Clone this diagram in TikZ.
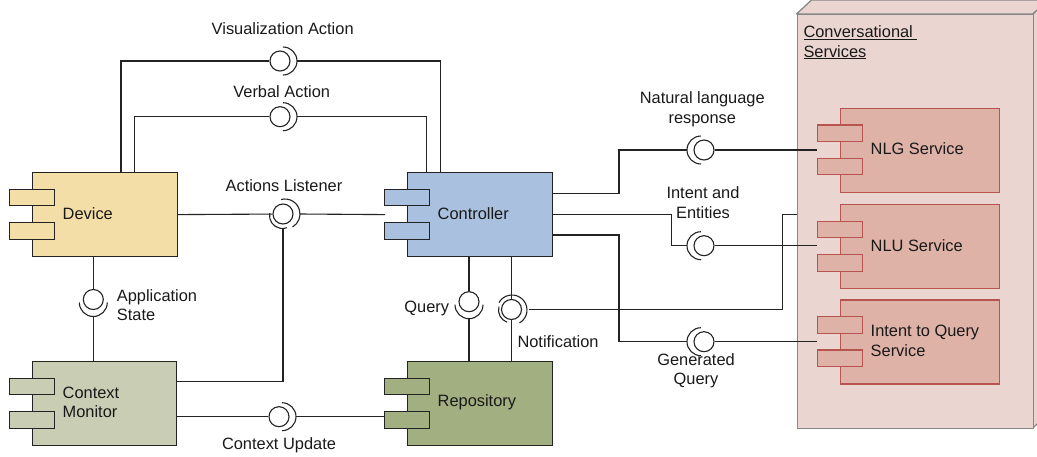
\documentclass[tikz,border=0pt]{standalone}
\usepackage{fontspec}
\setmainfont{Liberation Sans}
\usetikzlibrary{calc}
\definecolor{devfill}{RGB}{244,222,167}
\definecolor{ctrlfill}{RGB}{169,192,222}
\definecolor{cmfill}{RGB}{201,205,179}
\definecolor{repfill}{RGB}{161,175,129}
\definecolor{svcfill}{RGB}{222,178,167}
\definecolor{svcstroke}{RGB}{184,84,80}
\definecolor{boxfill}{RGB}{234,213,208}
\definecolor{boxstroke}{RGB}{135,135,135}
\definecolor{strokeblk}{RGB}{35,35,35}
\tikzset{
 compbody/.style={rectangle, line width=1.2pt, inner sep=0pt},
 comptab/.style={rectangle, line width=1.2pt, inner sep=0pt, minimum width=45pt, minimum height=16.5pt},
 ball/.style={circle, draw=strokeblk, line width=1.1pt, fill=white, minimum size=20pt, inner sep=0pt},
 sock/.style={line width=1.1pt, draw=strokeblk},
 conn/.style={line width=1.1pt, draw=strokeblk},
 lbl/.style={font=\fontsize{16.4}{19.5}\selectfont, inner sep=0pt, align=center, text=black!90},
}
\newcommand\umlcomp[7]{%
 \node[compbody, fill=#5, draw=#6, minimum width=#4pt, minimum height=84pt, anchor=north west] (#1) at (#2,#3) {};
 \node[comptab, fill=#5, draw=#6, anchor=north west] (#1-t1) at ($(#1.north west)+(-23,16.7)$) {};
 \node[comptab, fill=#5, draw=#6, anchor=north west] (#1-t2) at ($(#1.north west)+(-23,50)$) {};
 \node[lbl, align=left, anchor=west] (#1-l) at ($(#1.west)+(30.5,-1.3)$) {#7};
}
\newcommand\sockR[1]{%
 \draw[sock] ($(#1)+(3,0)$) ++(90:14pt) arc[start angle=90,end angle=-90,radius=14pt];
 \coordinate (#1-s) at ($(#1)+(17,0)$);}
\newcommand\sockL[1]{%
 \draw[sock] ($(#1)+(-3,0)$) ++(90:14pt) arc[start angle=90,end angle=270,radius=14pt];
 \coordinate (#1-s) at ($(#1)+(-17,0)$);}
\newcommand\sockD[1]{%
 \draw[sock] ($(#1)+(0,3)$) ++(180:14pt) arc[start angle=180,end angle=360,radius=14pt];
 \coordinate (#1-s) at ($(#1)+(0,17)$);}
\begin{document}
\begin{tikzpicture}[x=1pt,y=-1pt]
\useasboundingbox (0,0) rectangle (1037,456);
% outer 3D box
\draw[fill=boxfill, draw=boxstroke, line width=1.3pt, line join=round] (796.5,14) -- (811.5,0) -- (1048,0) -- (1033,14) -- cycle;
\draw[fill=boxfill, draw=boxstroke, line width=1.3pt, line join=round] (1033,14) -- (1048,0) -- (1048,413) -- (1033,428) -- cycle;
\node[draw=boxstroke, fill=boxfill, line width=1.3pt, minimum width=236.5pt, minimum height=414pt, anchor=north west, inner sep=0pt] (conv) at (796.5,14) {};
\node[lbl, align=left, anchor=west] (conv-l) at (803.3,42.5) {\underline{Conversational\ }\\\underline{Services}};
% components
\umlcomp{dev}{32}{172}{145}{devfill}{strokeblk}{Device}
\umlcomp{ctrl}{407}{172}{145}{ctrlfill}{strokeblk}{Controller}
\umlcomp{cm}{32}{361}{144}{cmfill}{strokeblk}{Context\\Monitor}
\umlcomp{rep}{407}{361}{145}{repfill}{strokeblk}{Repository}
\umlcomp{nlg}{840}{107.7}{159}{svcfill}{svcstroke}{NLG Service}
\umlcomp{nlu}{840}{204}{159}{svcfill}{svcstroke}{NLU Service}
\umlcomp{itq}{840}{299.3}{159}{svcfill}{svcstroke}{Intent to Query\\Service}
% balls
\node[ball] (va) at (280,61) {};
\node[ball] (vb) at (280,116.7) {};
\node[ball] (al) at (283,214) {};
\node[ball] (as) at (93.3,299.5) {};
\node[ball] (cu) at (279,416.7) {};
\node[ball] (qy) at (469,301.7) {};
\node[ball] (nt) at (511.5,309.5) {};
\node[ball] (nl) at (704,150) {};
\node[ball] (ie) at (704,245.7) {};
\node[ball] (gq) at (704,341.7) {};
% sockets
\sockR{va}
\sockR{vb}
\sockR{cu}
\sockD{as}
\sockD{qy}
\sockL{nl}
\sockL{ie}
\sockL{gq}
\draw[sock] ($(al)+(2,0)$) ++(105:15pt) arc[start angle=105,end angle=-60,radius=15pt];
\draw[sock] ($(al)+(-0.5,1.5)$) ++(170:13pt) arc[start angle=170,end angle=290,radius=13pt];
\coordinate (al-s) at ($(al)+(17,0)$);
\coordinate (al-b) at ($(al)+(0,15)$);
\draw[sock] ($(nt)+(0.5,0.5)$) ++(150:15pt) arc[start angle=150,end angle=-60,radius=15pt];
\draw[sock] ($(nt)+(0,0.5)$) ++(165:13pt) arc[start angle=165,end angle=250,radius=13pt];
\coordinate (nt-s) at ($(nt)+(17.5,0)$);
\coordinate (ntk) at (782.7,214.3);
% connectors
\draw[conn] ($(dev.north west)+(89,0)$) |- (va);
\draw[conn] (va-s) -| ($(ctrl.north west)+(33.7,0)$);
\draw[conn] ($(dev.north west)+(102.3,0)$) |- (vb);
\draw[conn] (vb-s) -| ($(ctrl.north west)+(19.7,0)$);
\draw[conn] (dev.east) -- (al);
\draw[conn] (al-s) -- ($(ctrl.west)+(-22,0)$);
\draw[conn] ($(cm.north east)+(0,20.3)$) -| (al-b);
\draw[conn] ($(dev.south west)+(61.3,0)$) -- (as);
\draw[conn] (as-s) -- ($(cm.north west)+(61.3,0)$);
\draw[conn] (cm.east |- cu) -- (cu);
\draw[conn] (cu-s) -- (cu-s -| rep-t2.west);
\draw[conn] ($(ctrl.south west)+(62,0)$) -- (qy);
\draw[conn] (qy-s) -- (qy-s |- rep.north);
\draw[conn] (ctrl.south -| nt) -- (nt);
\draw[conn] (nt) -- (nt |- rep.north);
\draw[conn] (nt-s) -| (ntk) -- (ntk -| conv.west);
\draw[conn] ($(ctrl.north east)+(0,21.3)$) -| ($(nl-s)+(-68,0)$) -- (nl-s);
\draw[conn] (nl) -- (nl -| nlg-t1.west);
\draw[conn] (ctrl.east) -| ($(ie-s)+(-15.3,0)$) -- (ie-s);
\draw[conn] (ie) -- (ie -| nlu-t1.west);
\draw[conn] ($(ctrl.north east)+(0,63)$) -| ($(gq-s)+(-68,0)$) -- (gq-s);
\draw[conn] (gq) -- (gq -| itq-t1.west);
% labels
\node[lbl] (l-va) at (282.7,28.3) {Visualization Action};
\node[lbl] (l-vb) at (281.7,91.7) {Verbal Action};
\node[lbl] (l-al) at (284,186) {Actions Listener};
\node[lbl, align=left, anchor=west] (l-as) at (116.7,305) {Application\\State};
\node[lbl] (l-cu) at (279,445) {Context Update};
\node[lbl, anchor=east] (l-qy) at (449.3,308.3) {Query};
\node[lbl, anchor=west] (l-nt) at (517.3,341.7) {Notification};
\node[lbl] (l-nl) at (702.3,109.5) {Natural language\\response};
\node[lbl] (l-ie) at (703,202.5) {Intent and\\Entities};
\node[lbl] (l-gq) at (696,370.7) {Generated\\Query};
\end{tikzpicture}
\end{document}
